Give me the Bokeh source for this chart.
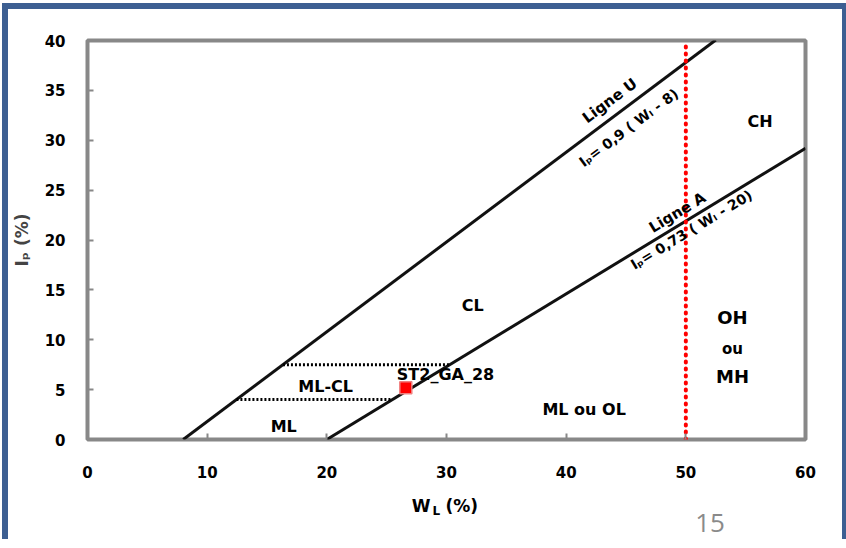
import math
from bokeh.plotting import figure
from bokeh.layouts import column
from bokeh.models import Range1d, Label, ColumnDataSource, FixedTicker
from bokeh.embed import file_html
from bokeh.resources import INLINE
from bokeh.core.properties import value

# ---------------- data ----------------
x_ticks = [0, 10, 20, 30, 40, 50, 60]
y_ticks = [0, 5, 10, 15, 20, 25, 30, 35, 40]

u_slope, u_origin = 0.9, 8.0        # Ligne U : Ip = 0.9 (WL - 8)
u_wl = [8.0, 52.5]
a_slope, a_origin = 0.73, 20.0      # Ligne A : Ip = 0.73 (WL - 20)
a_wl = [20.0, 60.0]
wl_limit = 50.0                     # WL = 50 %
ip_range = [0.0, 40.0]
mlcl_ip = [7.5, 4.0]                # ML-CL band limits

sample_name = ["ST2_GA_28"]
sample_wl = [26.6]
sample_ip = [5.2]

zone_names = ["CH", "CL", "OH", "ou", "MH", "ML-CL", "ML", "ML ou OL"]
slide_number = "15"
# ---------------------------------------

LEFT, TOP = 11, 10                    # page offset of the slide content
W = 834
H1, H2 = 480, 50
BL, BR, BT, BB = 75, 37, 31, 50
FONT = "DejaVu Sans"
BLUE = "#3d5f92"

p = figure(width=W, height=H1, output_backend="svg", toolbar_location=None,
           x_range=Range1d(0, 60), y_range=Range1d(0, 40),
           min_border_left=BL, min_border_right=BR, min_border_top=BT,
           min_border_bottom=BB, background_fill_color="white",
           border_fill_color="white")
p.xgrid.visible = False
p.ygrid.visible = False
p.outline_line_color = "#888888"
p.outline_line_width = 4

for ax, tk in ((p.xaxis[0], x_ticks), (p.yaxis[0], y_ticks)):
    ax.ticker = FixedTicker(ticks=tk)
    ax.axis_line_color = None
    ax.major_tick_in = 6
    ax.major_tick_out = 0
    ax.major_tick_line_color = "#888888"
    ax.major_tick_line_width = 2
    ax.minor_tick_line_color = None
    ax.major_label_text_font = FONT
    ax.major_label_text_font_style = "bold"
    ax.major_label_text_font_size = "15px"
    ax.major_label_text_color = "black"
p.xaxis.major_label_standoff = 26
p.yaxis.major_label_standoff = 22

p.yaxis.axis_label = "I\u209a (%)"
p.yaxis.axis_label_text_font = FONT
p.yaxis.axis_label_text_font_style = "bold"
p.yaxis.axis_label_text_font_size = "17px"
p.yaxis.axis_label_standoff = 10

# lines
u_ip = [u_slope * (w - u_origin) for w in u_wl]
a_ip = [a_slope * (w - a_origin) for w in a_wl]
p.line(u_wl, u_ip, line_color="#111111", line_width=3)
p.line(a_wl, a_ip, line_color="#111111", line_width=3)

for ip in mlcl_ip:
    xs = [ip / u_slope + u_origin, ip / a_slope + a_origin]
    p.line(xs, [ip, ip], line_color="black", line_width=3, line_dash="2 2")

p.line([wl_limit, wl_limit], ip_range, line_color="#ff0000", line_width=4,
       line_dash="1 6", line_cap="round")

src = ColumnDataSource(dict(x=sample_wl, y=sample_ip, name=sample_name))
p.scatter("x", "y", source=src, marker="square", size=12,
          fill_color="#ff0000", line_color="#f08080", line_width=1.5)
p.text("x", "y", text="name", source=src, x_offset=-9, y_offset=-13,
       text_font=value(FONT), text_font_style="bold", text_font_size="16px",
       text_baseline="middle", text_align="left", text_color="black")

# line labels
fw, fh = W - BL - BR, H1 - BT - BB
sx, sy = fw / 60.0, fh / 40.0
ang_u = math.atan(u_slope * sy / sx)
ang_a = math.atan(a_slope * sy / sx)

def lab(fig, x, y, text, size, angle=0.0, style="bold", font=FONT,
        color="black", align="center"):
    fig.add_layout(Label(x=x, y=y, text=text, angle=angle,
                         text_font=font, text_font_style=style,
                         text_font_size=size, text_align=align,
                         text_baseline="middle", text_color=color))

lab(p, 43.64, 33.97, "Ligne U", "15px", ang_u)
lab(p, 45.22, 31.26, "I\u209a= 0,9 ( W\u2097 - 8)", "14px", ang_u)
lab(p, 49.3, 22.75, "Ligne A", "15px", ang_a)
lab(p, 50.46, 21.04, "I\u209a= 0,73 ( W\u2097 - 20)", "14px", ang_a)

zone_x = [56.2, 32.2, 53.9, 53.9, 53.9, 19.9, 16.4, 41.5]
zone_y = [31.9, 13.4, 12.2, 9.1, 6.3, 5.3, 1.3, 3.0]
zone_sz = ["16px", "16px", "18px", "15px", "18px", "16px", "16px", "16px"]
for zx, zy, zt, zs in zip(zone_x, zone_y, zone_names, zone_sz):
    lab(p, zx, zy, zt, zs)

# ---- strip below: x-axis title W_L (%) and slide number ----
# its frame is aligned with the main frame, so map page x of that frame
q = figure(width=W, height=H2, output_backend="svg", toolbar_location=None,
           x_range=Range1d(LEFT + BL, LEFT + W - BR),
           y_range=Range1d(TOP + H1 + H2, TOP + H1),
           min_border_left=BL, min_border_right=BR, min_border_top=0,
           min_border_bottom=0, background_fill_color="white",
           border_fill_color="white")
q.axis.visible = False
q.grid.visible = False
q.outline_line_color = None

lab(q, 412, 506, "W", "17px", align="left")
lab(q, 433, 511, "L", "12px", align="left")
lab(q, 446, 506, "(%)", "17px", align="left")
lab(q, 712, 523, slide_number, "26px", 0.0, "normal", "Open Sans", "#8a8a8a")

layout = column(p, q, spacing=0,
                styles={"border-top": f"6px solid {BLUE}",
                        "border-left": f"6px solid {BLUE}",
                        "border-right": f"4px solid {BLUE}",
                        "margin-left": "2px", "margin-top": "3px",
                        "background-color": "white"})
open("out.html", "w").write(file_html(layout, INLINE))
